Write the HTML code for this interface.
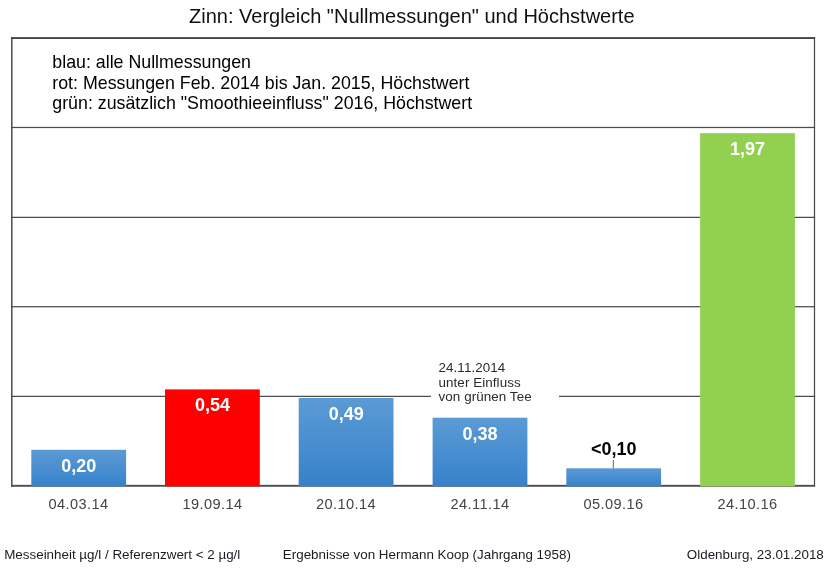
<!DOCTYPE html>
<html lang="de">
<head>
<meta charset="utf-8">
<title>Zinn: Vergleich</title>
<style>
html,body{margin:0;padding:0;background:#fff;}
body{width:830px;height:568px;position:relative;overflow:hidden;font-family:"Liberation Sans",Arial,sans-serif;color:#000;}
.abs{position:absolute;white-space:nowrap;}
#title{left:189px;top:3.9px;font-size:20px;line-height:24px;color:#111;}
.h{position:absolute;left:11px;width:804px;height:1.6px;background:#444;}
.v{position:absolute;top:37.2px;height:449px;width:1.6px;background:#444;}
.bar{position:absolute;width:94.8px;}
.blue{background:linear-gradient(#5b9bd5,#3a82c9);}
.red{background:#ff0000;}
.green{background:#92d050;}
.val{position:absolute;font-weight:bold;font-size:18px;line-height:20px;color:#fff;text-align:center;width:95px;}
.xl{position:absolute;top:494.5px;font-size:14.6px;letter-spacing:0.4px;line-height:18px;color:#444;text-align:center;width:134px;}
.leg{left:52.3px;font-size:17.8px;line-height:20px;color:#000;}
.foot{top:546.9px;font-size:13.4px;line-height:16px;color:#1a1a22;}
</style>
</head>
<body>
<div id="title" class="abs">Zinn: Vergleich "Nullmessungen" und Höchstwerte</div>


<svg class="abs" style="left:0;top:0" width="830" height="568" viewBox="0 0 830 568">
<defs><linearGradient id="bl" x1="0" y1="0" x2="0" y2="1"><stop offset="0" stop-color="#5b9bd5"/><stop offset="1" stop-color="#3781ca"/></linearGradient></defs>
<g fill="#4d4d4d">
<rect x="11" y="37.1" width="804.1" height="1.9" fill="#454545"/>
<rect x="11" y="126.85" width="804.1" height="1.25"/>
<rect x="11" y="216.75" width="804.1" height="1.25"/>
<rect x="11" y="306.1" width="804.1" height="1.25"/>
<rect x="11" y="395.75" width="804.1" height="1.25"/>
<rect x="11.05" y="37.1" width="1.5" height="449.6"/>
<rect x="813.9" y="37.1" width="1.2" height="449.6" fill="#454545"/>
</g>
<rect x="11" y="484.85" width="804.1" height="1.9" fill="#4d4d4d"/>
<rect x="430.9" y="390" width="128.1" height="12" fill="#fff"/>
<rect x="31.3" y="449.8" width="94.8" height="36.55" fill="url(#bl)"/>
<rect x="165" y="389.4" width="94.8" height="96.95" fill="#ff0000"/>
<rect x="298.7" y="398.0" width="94.8" height="88.35" fill="url(#bl)"/>
<rect x="432.6" y="417.7" width="94.8" height="68.65" fill="url(#bl)"/>
<rect x="566.3" y="468.3" width="94.8" height="18.05" fill="url(#bl)"/>
<rect x="700.1" y="133.2" width="94.8" height="353.15" fill="#92d050"/>
<rect x="612.8" y="460" width="1" height="8.4" fill="#666"/>
</svg>
<div class="abs leg" style="top:51.6px">blau: alle Nullmessungen</div>
<div class="abs leg" style="top:73.1px">rot: Messungen Feb. 2014 bis Jan. 2015, Höchstwert</div>
<div class="abs leg" style="top:93px">grün: zusätzlich "Smoothieeinfluss" 2016, Höchstwert</div>

<div class="abs" id="notet" style="left:438.5px;top:360.85px;font-size:13.4px;letter-spacing:0.08px;line-height:14.75px;color:#2b2b2b;">24.11.2014<br>unter Einfluss<br>von grünen Tee</div>



<div class="val" style="left:31.3px;top:455.7px">0,20</div>
<div class="val" style="left:165px;top:394.5px">0,54</div>
<div class="val" style="left:298.7px;top:404px">0,49</div>
<div class="val" style="left:432.6px;top:423.8px">0,38</div>
<div class="val" style="left:566.3px;top:438.8px;color:#000">&lt;0,10</div>
<div class="val" style="left:700.1px;top:139.3px">1,97</div>

<div class="xl" style="left:11.5px">04.03.14</div>
<div class="xl" style="left:145.5px">19.09.14</div>
<div class="xl" style="left:279px">20.10.14</div>
<div class="xl" style="left:413px">24.11.14</div>
<div class="xl" style="left:546.5px">05.09.16</div>
<div class="xl" style="left:680.5px">24.10.16</div>

<div class="abs foot" style="left:4.2px">Messeinheit µg/l / Referenzwert &lt; 2 µg/l</div>
<div class="abs foot" style="left:282.8px">Ergebnisse von Hermann Koop (Jahrgang 1958)</div>
<div class="abs foot" style="left:686.8px">Oldenburg, 23.01.2018</div>
</body>
</html>
